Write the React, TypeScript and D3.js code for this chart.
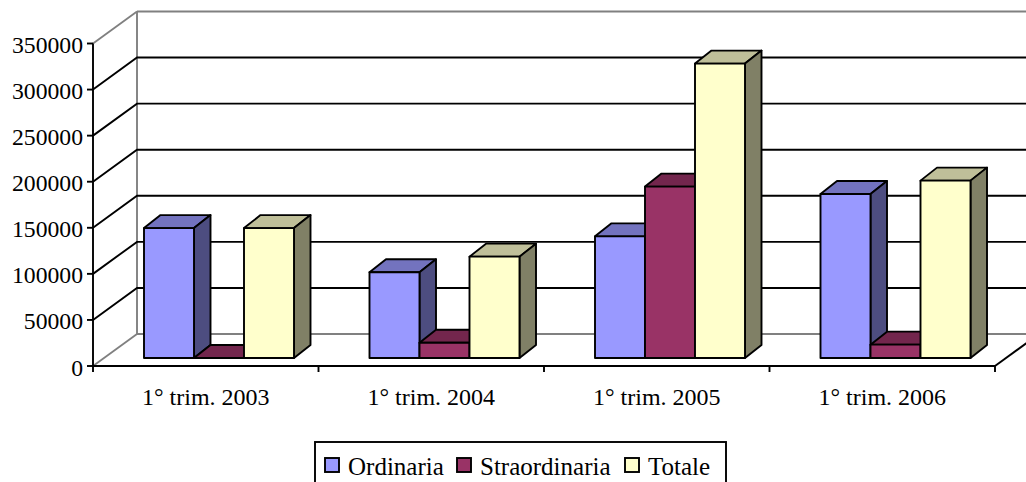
import React from "react";
import * as d3 from "d3";

const categories = ["1° trim. 2003", "1° trim. 2004", "1° trim. 2005", "1° trim. 2006"];
const seriesNames = ["Ordinaria", "Straordinaria", "Totale"];
const ordinaria = [141000, 93000, 132000, 178000];
const straordinaria = [0, 16500, 186000, 14500];
const totale = [141000, 110000, 319500, 192500];
const yTicks = [0, 50000, 100000, 150000, 200000, 250000, 300000, 350000];
const seriesValues = [ordinaria, straordinaria, totale];
const fills = ["#9999FF", "#993366", "#FFFFCC"];
const tops = ["#7373BF", "#73264D", "#BFBF99"];
const sides = ["#4D4D80", "#4D1933", "#808066"];

const FONT = "'Liberation Serif', 'Times New Roman', serif";
const W = 1026, H = 482;
const wallDx = 44, wallDy = -32;
const barDx = 16.5, barDy = -13, floorInset = 8;

export default function App() {
  const y = d3.scaleLinear().domain([0, 350000]).range([366, 43.5]);
  const x = d3.scaleBand<string>().domain(categories).range([93, 995]);
  const inner = d3.scaleBand<string>().domain(seriesNames).range([51, 201]);
  const y0 = y(0);
  const gray = "#808080";
  const sw = 1.9;
  const line = d3.line();
  const poly = (pts: [number, number][]) => line(pts)! + "Z";
  const legendX = [325, 457, 625];
  const legendTextX = [348, 480, 648];

  return (
    <svg width={W} height={H} viewBox={`0 0 ${W} ${H}`} style={{ position: "absolute", left: 0, top: 0, background: "#fff", fontFamily: FONT }}>
      {/* walls */}
      <line x1={93} y1={y(350000)} x2={93 + wallDx} y2={y(350000) + wallDy} stroke={gray} strokeWidth={sw} />
      <line x1={93 + wallDx} y1={y(350000) + wallDy} x2={W} y2={y(350000) + wallDy} stroke={gray} strokeWidth={sw} />
      <line x1={93 + wallDx} y1={y(350000) + wallDy} x2={93 + wallDx} y2={y0 + wallDy} stroke={gray} strokeWidth={sw} />
      <line x1={93} y1={y0} x2={93 + wallDx} y2={y0 + wallDy} stroke={gray} strokeWidth={sw} />
      <line x1={93 + wallDx} y1={y0 + wallDy} x2={W} y2={y0 + wallDy} stroke={gray} strokeWidth={sw} />
      {/* gridlines */}
      {yTicks.slice(1, -1).map((t) => (
        <path key={t} d={line([[93, y(t)], [93 + wallDx, y(t) + wallDy], [W, y(t) + wallDy]])!} fill="none" stroke="#000" strokeWidth={sw} />
      ))}
      {/* floor edge on the right */}
      <line x1={995} y1={y0} x2={995 + wallDx} y2={y0 + wallDy} stroke="#000" strokeWidth={sw} />
      {/* bars */}
      {categories.map((c, ci) => (
        <g key={c}>
          {seriesNames.map((s, si) => {
            const left = x(c)! + inner(s)!;
            const right = left + inner.bandwidth();
            const base = y0 - floorInset;
            const top = y(seriesValues[si][ci]) - floorInset;
            return (
              <g key={s} stroke="#000" strokeWidth={sw} strokeLinejoin="round">
                <path d={poly([[left, top], [left + barDx, top + barDy], [right + barDx, top + barDy], [right, top]])} fill={tops[si]} />
                <path d={poly([[right, top], [right + barDx, top + barDy], [right + barDx, base + barDy], [right, base]])} fill={sides[si]} />
                {base - top > 0 && <rect x={left} y={top} width={right - left} height={base - top} fill={fills[si]} />}
                {base - top <= 0 && <line x1={left} y1={base} x2={right} y2={base} />}
              </g>
            );
          })}
        </g>
      ))}
      {/* axes */}
      <line x1={93} y1={y(350000)} x2={93} y2={y0} stroke="#000" strokeWidth={sw} />
      <line x1={93} y1={y0} x2={995} y2={y0} stroke="#000" strokeWidth={sw} />
      {yTicks.map((t) => (
        <g key={t}>
          <line x1={87} x2={93} y1={y(t)} y2={y(t)} stroke="#000" strokeWidth={sw} />
          <text x={83} y={y(t) + 9.5} textAnchor="end" fontSize={23.7} fill="#000">{t}</text>
        </g>
      ))}
      {[...categories.map((c) => x(c)!), 995].map((p) => (
        <line key={p} x1={p} x2={p} y1={y0} y2={y0 + 6} stroke="#000" strokeWidth={sw} />
      ))}
      {categories.map((c) => (
        <text key={c} x={x(c)! + x.bandwidth() / 2} y={405} textAnchor="middle" fontSize={24} fill="#000">{c}</text>
      ))}
      {/* legend: its lower edge falls outside the picture in the reference */}
      <rect x={315} y={442} width={411} height={60} fill="#fff" stroke="#000" strokeWidth={sw} />
      {seriesNames.map((s, i) => (
        <g key={s}>
          <rect x={legendX[i]} y={458} width={14} height={14} fill={fills[i]} stroke="#000" strokeWidth={sw} />
          <text x={legendTextX[i]} y={474.5} fontSize={25} fill="#000">{s}</text>
        </g>
      ))}
    </svg>
  );
}
